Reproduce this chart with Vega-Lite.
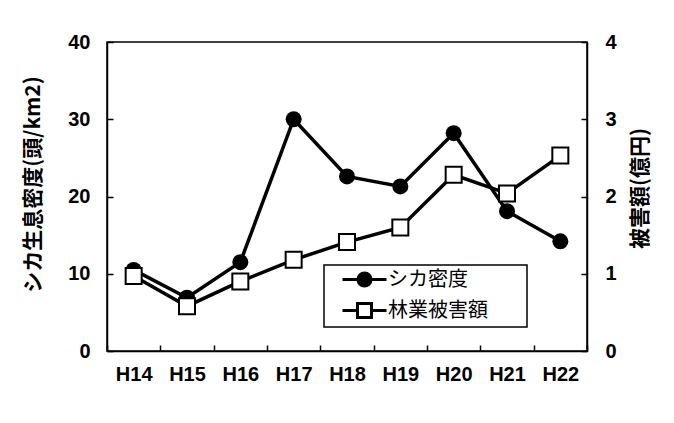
{
  "$schema": "https://vega.github.io/schema/vega-lite/v6.json",
  "width": 480,
  "height": 309,
  "autosize": "none",
  "padding": {"left": 107, "top": 42, "right": 87, "bottom": 72},
  "background": "white",
  "config": {
    "view": {"stroke": "black", "strokeWidth": 1.5},
    "axis": {
      "labelFont": "Liberation Sans", "labelFontWeight": "bold", "labelFontSize": 20, "labelColor": "black",
      "domainColor": "black", "domainWidth": 1.5, "tickColor": "black", "tickWidth": 1.5, "tickSize": -6,
      "grid": false,
      "titleFont": "Noto Sans CJK JP", "titleFontWeight": "bold", "titleFontSize": 21, "titleColor": "black"
    }
  },
  "data": {"values": [
    {"year": "H14", "density": 10.5, "damage": 0.97},
    {"year": "H15", "density": 6.9, "damage": 0.58},
    {"year": "H16", "density": 11.5, "damage": 0.90},
    {"year": "H17", "density": 30.0, "damage": 1.18},
    {"year": "H18", "density": 22.6, "damage": 1.41},
    {"year": "H19", "density": 21.3, "damage": 1.60},
    {"year": "H20", "density": 28.2, "damage": 2.28},
    {"year": "H21", "density": 18.1, "damage": 2.04},
    {"year": "H22", "density": 14.2, "damage": 2.53}
  ]},
  "encoding": {
    "x": {"field": "year", "type": "nominal", "sort": null,
      "scale": {"type": "band", "paddingInner": 0, "paddingOuter": 0},
      "axis": {"title": null, "labelAngle": 0, "tickBand": "extent", "labelPadding": 19}}
  },
  "layer": [
    {
      "encoding": {
        "y": {"field": "density", "type": "quantitative", "scale": {"domain": [0, 40]},
          "axis": {"orient": "left", "values": [0, 10, 20, 30, 40], "title": "シカ生息密度(頭/km2)", "labelPadding": 23, "titlePadding": 24, "titleY": 142}}
      },
      "layer": [
        {"mark": {"type": "line", "strokeWidth": 3.5},
          "encoding": {"stroke": {"datum": "シカ密度", "type": "nominal",
            "scale": {"domain": ["シカ密度", "林業被害額"], "range": ["black", "black"]},
            "legend": {
              "orient": "none", "legendX": 217, "legendY": 223, "title": null,
              "strokeColor": "black", "fillColor": "white", "padding": 3, "rowPadding": 5,
              "labelFont": "Noto Sans CJK JP", "labelFontSize": 20, "labelColor": "black", "labelOffset": 24,
              "symbolSize": 400, "symbolStrokeWidth": 3, "symbolStrokeColor": "black", "symbolOffset": 14,
              "encode": {
                "legend": {"update": {"strokeWidth": {"value": 1.5}}},
                "symbols": {"update": {
                  "shape": {"signal": "datum.value === 'シカ密度' ? 'M-1,0H0.55M1.85,0H3.4M0.55,0A0.65,0.65 0 1,0 1.85,0A0.65,0.65 0 1,0 0.55,0ZM16.5,0' : 'M-1,0H0.5M1.9,0H3.4M0.5,-0.7H1.9V0.7H0.5ZM16.5,0'"},
                  "fill": {"signal": "datum.value === 'シカ密度' ? 'black' : 'white'"},
                  "stroke": {"value": "black"},
                  "strokeWidth": {"value": 3},
                  "opacity": {"value": 1}
                }}
              }
            }}}},
        {"mark": {"type": "point", "shape": "circle", "filled": true, "color": "black", "size": 256, "opacity": 1}}
      ]
    },
    {
      "encoding": {
        "y": {"field": "damage", "type": "quantitative", "scale": {"domain": [0, 4]},
          "axis": {"orient": "right", "values": [0, 1, 2, 3, 4], "title": "被害額(億円)", "titleAngle": 270, "titleBaseline": "top", "labelPadding": 24, "titlePadding": 13, "titleY": 146}}
      },
      "layer": [
        {"mark": {"type": "line", "strokeWidth": 3.5},
          "encoding": {"stroke": {"datum": "林業被害額", "type": "nominal"}}},
        {"mark": {"type": "point", "shape": "square", "filled": true, "fill": "white", "stroke": "black", "strokeWidth": 2, "size": 256, "opacity": 1}}
      ]
    }
  ],
  "resolve": {"scale": {"y": "independent"}}
}
